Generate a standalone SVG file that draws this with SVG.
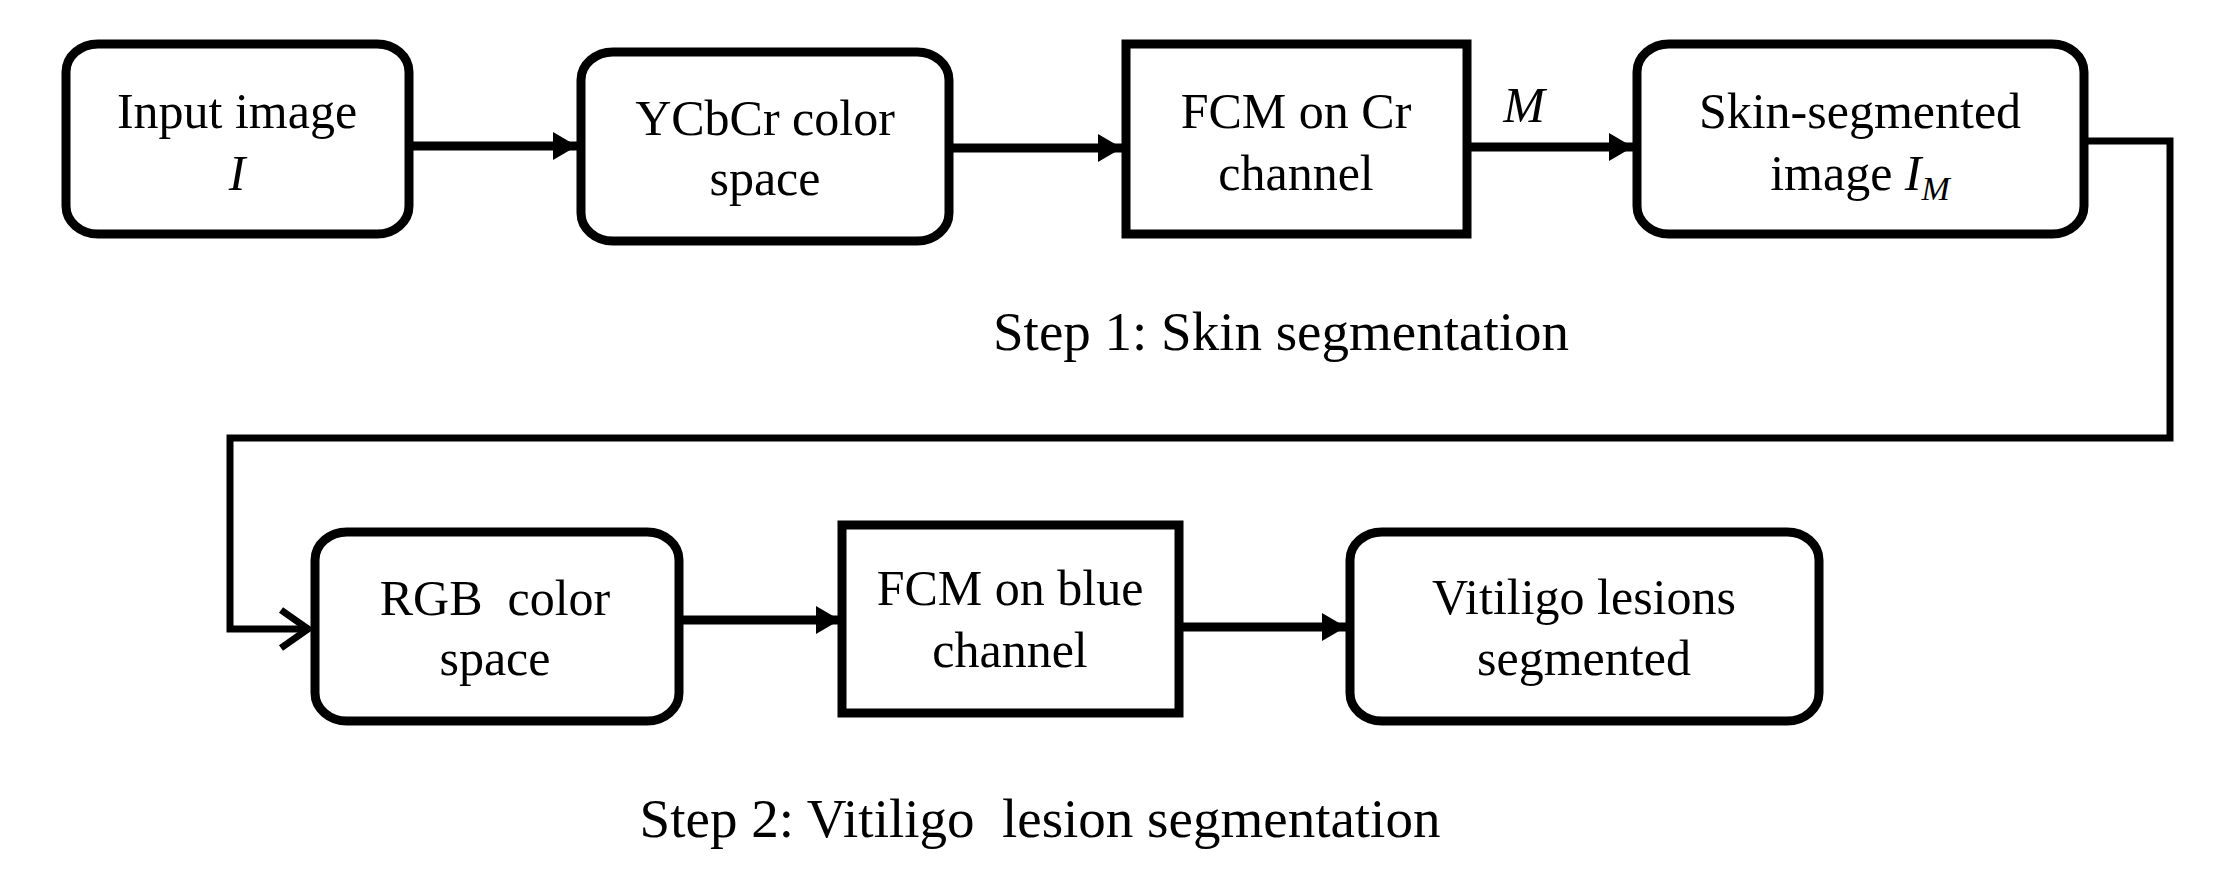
<svg xmlns="http://www.w3.org/2000/svg" width="2230" height="874" viewBox="0 0 2230 874">
<style>
.box{fill:#fff;stroke:#000;stroke-width:9}
.t{font-family:"Liberation Serif","Times New Roman",serif;font-size:50px;fill:#000;text-anchor:middle}
.cap{font-family:"Liberation Serif","Times New Roman",serif;font-size:55px;fill:#000;text-anchor:middle}
.it{font-style:italic}
.c{fill:none;stroke:#000;stroke-width:9}
.c2{fill:none;stroke:#000;stroke-width:7}
</style>
<defs>
<marker id="ah" markerUnits="userSpaceOnUse" markerWidth="26" markerHeight="32" refX="24" refY="16" orient="auto">
<path d="M0,2 L24,16 L0,30 Z" fill="#000"/>
</marker>
<marker id="oh" markerUnits="userSpaceOnUse" markerWidth="36" markerHeight="46" refX="32" refY="23" orient="auto">
<path d="M4,4 L31,23 L4,42" fill="none" stroke="#000" stroke-width="7"/>
</marker>
</defs>
<rect width="2230" height="874" fill="#fff"/>
<g id="connectors">
<line class="c" x1="413" y1="146" x2="577" y2="146" marker-end="url(#ah)"/>
<line class="c" x1="953" y1="148" x2="1122" y2="148" marker-end="url(#ah)"/>
<line class="c" x1="1471" y1="147" x2="1633" y2="147" marker-end="url(#ah)"/>
<polyline class="c2" points="2088,141 2170,141 2170,438 230,438 230,629 309,629" marker-end="url(#oh)"/>
<line class="c" x1="683" y1="620" x2="840" y2="620" marker-end="url(#ah)"/>
<line class="c" x1="1183" y1="627" x2="1346" y2="627" marker-end="url(#ah)"/>
<text class="t it" x="1524" y="122">M</text>
</g>
<g id="input">
<rect class="box" x="66" y="44" width="343" height="190" rx="32" ry="28"/>
<text class="t" x="237" y="128">Input image</text>
<text class="t it" x="237" y="190">I</text>
</g>
<g id="ycbcr">
<rect class="box" x="581" y="52" width="368" height="189" rx="32" ry="28"/>
<text class="t" x="765" y="135">YCbCr color</text>
<text class="t" x="765" y="195">space</text>
</g>
<g id="fcmcr">
<rect class="box" x="1126" y="44" width="341" height="190"/>
<text class="t" x="1296" y="128">FCM on Cr</text>
<text class="t" x="1296" y="190">channel</text>
</g>
<g id="skin">
<rect class="box" x="1637" y="44" width="447" height="190" rx="32" ry="28"/>
<text class="t" x="1860" y="128">Skin-segmented</text>
<text class="t" x="1860" y="190">image <tspan class="it">I</tspan><tspan class="it" font-size="34" dy="10">M</tspan></text>
</g>
<g id="step1">
<text class="cap" x="1281" y="350">Step 1: Skin segmentation</text>
</g>
<g id="rgb">
<rect class="box" x="315" y="532" width="364" height="189" rx="32" ry="28"/>
<text class="t" x="495" y="615" xml:space="preserve">RGB  color</text>
<text class="t" x="495" y="675">space</text>
</g>
<g id="fcmblue">
<rect class="box" x="842" y="525" width="337" height="188"/>
<text class="t" x="1010" y="605">FCM on blue</text>
<text class="t" x="1010" y="667">channel</text>
</g>
<g id="vitiligo">
<rect class="box" x="1350" y="532" width="469" height="189" rx="32" ry="28"/>
<text class="t" x="1584" y="614">Vitiligo lesions</text>
<text class="t" x="1584" y="675">segmented</text>
</g>
<g id="step2">
<text class="cap" x="1040" y="837" xml:space="preserve">Step 2: Vitiligo  lesion segmentation</text>
</g>
</svg>
